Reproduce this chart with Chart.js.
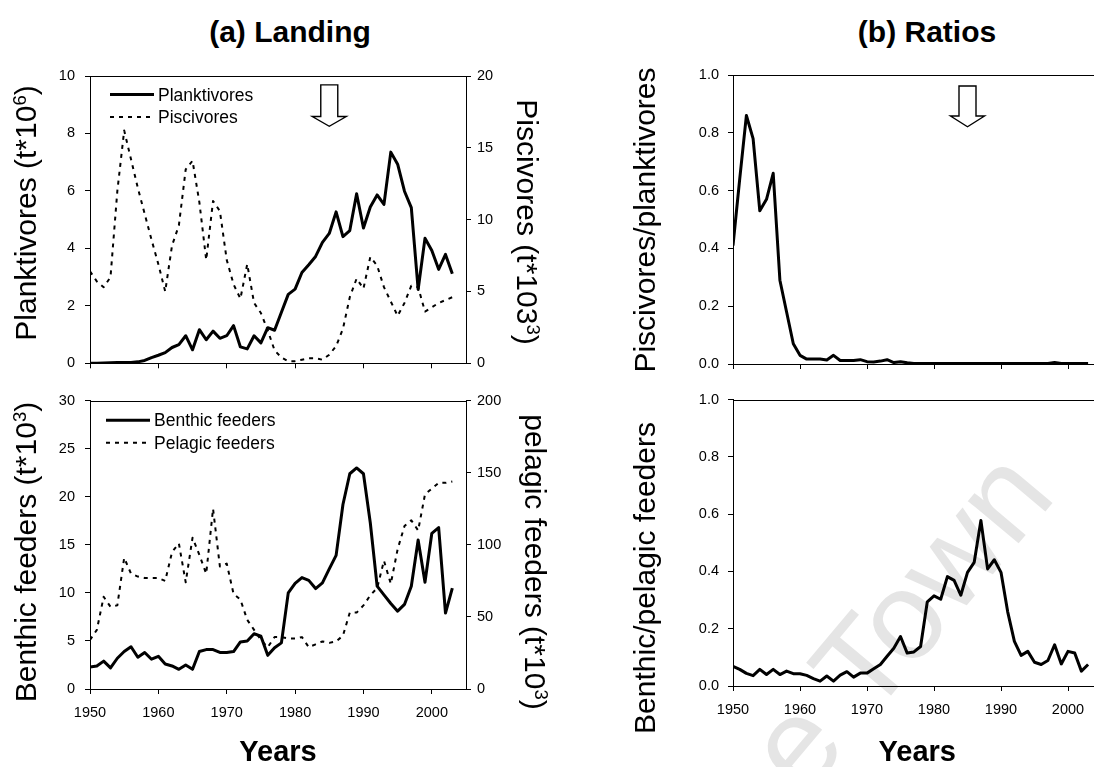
<!DOCTYPE html>
<html>
<head>
<meta charset="utf-8">
<title>Landing and ratios</title>
<script src="https://cdn.jsdelivr.net/npm/chart.js@4.4.1/dist/chart.umd.min.js"></script>
<style>
  html, body { margin: 0; padding: 0; width: 1094px; height: 767px; overflow: hidden; background: #fff; }
  body { position: relative; font-family: "Liberation Sans", Arial, Helvetica, sans-serif; color: #000; }
  canvas { position: absolute; }
  .head { position: absolute; font-weight: bold; font-size: 30px; line-height: 30px; white-space: nowrap; transform: translateX(-50%); }
  .ytitle { position: absolute; font-size: 30px; line-height: 30px; white-space: nowrap; }
  .ytitle sup { font-size: 62%; vertical-align: 0.55em; line-height: 0; }
  .ytitle.l { transform: translate(-50%, -50%) rotate(-90deg); }
  .ytitle.r { transform: translate(-50%, -50%) rotate(90deg); }
  .wm { position: absolute; font-size: 125px; line-height: 125px; color: #e5e5e5; white-space: nowrap; transform-origin: 0 0; transform: rotate(-50deg); }
</style>
</head>
<body>
<div class="wm" style="left:576px; top:906px;">Cape Town</div>

<div class="head" style="left:290px; top:17px;">(a) Landing</div>
<div class="head" style="left:927px; top:17px;">(b) Ratios</div>

<canvas id="landTop" width="560" height="382" style="left:0; top:0;"></canvas>
<canvas id="landBottom" width="560" height="385" style="left:0; top:382px;"></canvas>
<canvas id="ratioTop" width="600" height="382" style="left:600px; top:0;"></canvas>
<canvas id="ratioBottom" width="600" height="385" style="left:600px; top:382px;"></canvas>

<div class="ytitle l" style="left:26px; top:213px;">Planktivores (t*10<sup>6</sup>)</div>
<div class="ytitle r" style="left:527px; top:222px;">Piscivores (t*103<sup>3</sup>)</div>
<div class="ytitle l" style="left:26px; top:552px;">Benthic feeders (t*10<sup>3</sup>)</div>
<div class="ytitle r" style="left:535px; top:562px;">pelagic feeders (t*10<sup>3</sup>)</div>
<div class="ytitle l" style="left:645px; top:220px;">Piscivores/planktivores</div>
<div class="ytitle l" style="left:645px; top:578px;">Benthic/pelagic feeders</div>

<script>
// ---- data -------------------------------------------------------------
const years = [
  1950, 1951, 1952, 1953, 1954, 1955, 1956, 1957, 1958, 1959,
  1960, 1961, 1962, 1963, 1964, 1965, 1966, 1967, 1968, 1969,
  1970, 1971, 1972, 1973, 1974, 1975, 1976, 1977, 1978, 1979,
  1980, 1981, 1982, 1983, 1984, 1985, 1986, 1987, 1988, 1989,
  1990, 1991, 1992, 1993, 1994, 1995, 1996, 1997, 1998, 1999,
  2000, 2001, 2002, 2003
];

// landings of planktivores, t*10^6 (left axis)
const planktivores = [
  0.00, 0.00, 0.01, 0.02, 0.03, 0.03, 0.03, 0.05, 0.10, 0.20,
  0.28, 0.37, 0.55, 0.65, 0.96, 0.47, 1.17, 0.82, 1.12, 0.87,
  0.96, 1.31, 0.57, 0.50, 0.96, 0.71, 1.24, 1.15, 1.78, 2.40,
  2.58, 3.16, 3.43, 3.72, 4.21, 4.52, 5.27, 4.41, 4.62, 5.90,
  4.71, 5.44, 5.86, 5.53, 7.35, 6.93, 5.99, 5.42, 2.57, 4.35,
  3.93, 3.27, 3.79, 3.12
];

// landings of piscivores (right axis)
const piscivores = [
  6.4, 5.7, 5.3, 6.0, 12.0, 16.2, 14.2, 12.2, 10.4, 8.6,
  6.9, 5.0, 8.2, 9.6, 13.5, 14.1, 11.2, 7.2, 11.3, 10.6,
  7.2, 5.5, 4.5, 6.9, 4.2, 3.5, 2.3, 0.9, 0.4, 0.15,
  0.15, 0.25, 0.35, 0.35, 0.25, 0.6, 1.2, 2.4, 4.6, 5.9,
  5.2, 7.4, 6.8, 5.3, 4.3, 3.3, 4.2, 5.4, 5.3, 3.6,
  3.9, 4.2, 4.4, 4.6
];

// landings of benthic feeders, t*10^3 (left axis)
const benthicFeeders = [
  2.3, 2.4, 2.9, 2.2, 3.2, 3.9, 4.4, 3.3, 3.8, 3.1,
  3.4, 2.6, 2.4, 2.05, 2.5, 2.05, 3.9, 4.1, 4.1, 3.8,
  3.8, 3.9, 4.9, 5.0, 5.75, 5.5, 3.5, 4.3, 4.8, 10.0,
  11.0, 11.6, 11.3, 10.45, 11.05, 12.5, 13.9, 19.2, 22.4, 23.0,
  22.4, 17.3, 10.7, 9.8, 8.9, 8.1, 8.8, 10.7, 15.5, 11.1,
  16.2, 16.8, 7.9, 10.5
];

// landings of pelagic feeders, t*10^3 (right axis)
const pelagicFeeders = [
  34, 41, 64, 57, 58, 91, 80, 78, 77, 77,
  77, 75, 95, 101, 74, 105, 93, 80, 125, 85,
  87, 66, 62, 48, 41, 34, 29, 36, 36, 35,
  35, 36, 29, 31, 33, 32, 33, 37, 53, 53,
  58, 65, 70, 89, 73, 97, 113, 117, 110, 135,
  139, 143, 143, 144
];

// piscivores / planktivores
const ratioPiscPlank = [
  0.41, 0.64, 0.86, 0.78, 0.53, 0.57, 0.66, 0.29, 0.18, 0.07,
  0.03, 0.017, 0.017, 0.017, 0.014, 0.03, 0.012, 0.012, 0.012, 0.015,
  0.008, 0.007, 0.010, 0.015, 0.005, 0.008, 0.004, 0.002, 0.002, 0.002,
  0.002, 0.002, 0.002, 0.002, 0.002, 0.002, 0.002, 0.002, 0.002, 0.002,
  0.002, 0.002, 0.002, 0.002, 0.002, 0.002, 0.002, 0.002, 0.005, 0.002,
  0.002, 0.002, 0.002, 0.002
];

// benthic / pelagic feeders
const ratioBenthPel = [
  0.069, 0.058, 0.044, 0.036, 0.058, 0.040, 0.058, 0.040, 0.052, 0.043,
  0.043, 0.037, 0.026, 0.017, 0.035, 0.017, 0.038, 0.050, 0.031, 0.045,
  0.045, 0.060, 0.075, 0.104, 0.132, 0.173, 0.115, 0.119, 0.138, 0.294,
  0.315, 0.303, 0.382, 0.369, 0.317, 0.397, 0.432, 0.578, 0.409, 0.441,
  0.397, 0.259, 0.156, 0.107, 0.121, 0.083, 0.075, 0.089, 0.144, 0.077,
  0.121, 0.115, 0.052, 0.075
];

const yearTicks = [1950, 1960, 1970, 1980, 1990, 2000];
const regimeShiftYear = 1985;

// ---- shared styling -----------------------------------------------------
const FONT = '"Liberation Sans", Arial, Helvetica, sans-serif';
Chart.defaults.font.family = FONT;
Chart.defaults.color = '#000';

const solidLine = { borderColor: '#000', borderWidth: 3, pointRadius: 0, tension: 0, fill: false, borderJoinStyle: 'round', borderCapStyle: 'butt' };
const dashedLine = { borderColor: '#000', borderWidth: 2, borderDash: [4, 5], pointRadius: 0, tension: 0, fill: false, borderJoinStyle: 'round' };

function xAxis(height, showLabels) {
  return {
    type: 'linear', position: 'bottom', min: 1950, max: 2005,
    afterBuildTicks: s => { s.ticks = yearTicks.map(v => ({ value: v })); },
    afterFit: s => { s.height = height; },
    grid: { drawOnChartArea: false, drawTicks: true, tickLength: 5, color: '#000', lineWidth: 1 },
    border: { display: true, color: '#000', width: 1 },
    ticks: { display: showLabels, padding: 10, font: { size: 14.5 }, color: '#000', maxRotation: 0, autoSkip: false, callback: v => String(v) },
    title: showLabels ? { display: true, text: 'Years', font: { size: 29, weight: 'bold', lineHeight: 1 }, color: '#000', padding: { top: 0, bottom: 0 } } : { display: false }
  };
}

function yAxis(position, min, max, step, width, pad, fmt) {
  return {
    type: 'linear', position, min, max,
    afterFit: s => { s.width = width; },
    grid: { drawOnChartArea: false, drawTicks: true, tickLength: 5, color: '#000', lineWidth: 1 },
    border: { display: true, color: '#000', width: 1 },
    ticks: { stepSize: step, padding: pad, font: { size: 14.5 }, color: '#000', callback: fmt || (v => String(v)) }
  };
}

// top border of each plot box
const plotFrame = {
  id: 'plotFrame',
  afterDraw(chart) {
    const { ctx, chartArea } = chart;
    ctx.save();
    ctx.strokeStyle = '#000';
    ctx.lineWidth = 1;
    ctx.beginPath();
    ctx.moveTo(chartArea.left, Math.round(chartArea.top) + 0.5);
    ctx.lineTo(chartArea.right + 0.5, Math.round(chartArea.top) + 0.5);
    ctx.stroke();
    ctx.restore();
  }
};

// legend drawn inside the plot area, top left
const innerLegend = {
  id: 'innerLegend',
  afterDatasetsDraw(chart, args, opts) {
    if (!opts || !opts.show) return;
    const { ctx, chartArea } = chart;
    ctx.save();
    ctx.font = opts.fontSize + 'px ' + FONT;
    ctx.textBaseline = 'alphabetic';
    chart.data.datasets.forEach((ds, i) => {
      const x0 = chartArea.left + opts.x;
      const y = chartArea.top + opts.y + i * opts.rowGap;
      ctx.beginPath();
      ctx.strokeStyle = ds.borderColor;
      ctx.lineWidth = ds.borderWidth;
      ctx.setLineDash(ds.borderDash || []);
      ctx.moveTo(x0, y);
      ctx.lineTo(x0 + opts.sample, y);
      ctx.stroke();
      ctx.setLineDash([]);
      ctx.fillStyle = '#000';
      ctx.fillText(ds.label, x0 + opts.sample + opts.gap, y + opts.textDy);
    });
    ctx.restore();
  }
};

// hollow arrow marking the shift year
const shiftArrow = {
  id: 'shiftArrow',
  afterDatasetsDraw(chart, args, o) {
    if (!o || !o.show) return;
    const xs = chart.scales.x, ys = chart.scales[o.axis];
    const cx = xs.getPixelForValue(o.year);
    const yTop = ys.getPixelForValue(o.top);
    const yHead = ys.getPixelForValue(o.head);
    const yTip = ys.getPixelForValue(o.tip);
    const sw = o.shaftWidth / 2, hw = o.headWidth / 2;
    const { ctx } = chart;
    ctx.save();
    ctx.beginPath();
    ctx.moveTo(cx - sw, yTop);
    ctx.lineTo(cx + sw, yTop);
    ctx.lineTo(cx + sw, yHead);
    ctx.lineTo(cx + hw, yHead);
    ctx.lineTo(cx, yTip);
    ctx.lineTo(cx - hw, yHead);
    ctx.lineTo(cx - sw, yHead);
    ctx.closePath();
    ctx.fillStyle = '#fff';
    ctx.fill();
    ctx.strokeStyle = '#000';
    ctx.lineWidth = 1.4;
    ctx.lineJoin = 'miter';
    ctx.stroke();
    ctx.restore();
  }
};

const basePlugins = [plotFrame, innerLegend, shiftArrow];
const baseOpts = { responsive: false, animation: false, devicePixelRatio: 1, events: [] };
const fixed1 = v => Number(v).toFixed(1);

// (a) top: planktivores and piscivores
new Chart(document.getElementById('landTop'), {
  type: 'line',
  data: {
    labels: years,
    datasets: [
      Object.assign({ label: 'Planktivores', data: planktivores, yAxisID: 'y' }, solidLine),
      Object.assign({ label: 'Piscivores', data: piscivores, yAxisID: 'y2' }, dashedLine)
    ]
  },
  options: Object.assign({}, baseOpts, {
    layout: { padding: { top: 76, left: 0, right: 0, bottom: 0 } },
    scales: {
      x: xAxis(15, false),
      y: yAxis('left', 0, 10, 2, 90, 10),
      y2: yAxis('right', 0, 20, 5, 94, 6)
    },
    plugins: {
      legend: { display: false }, tooltip: { enabled: false },
      innerLegend: { show: true, x: 20, y: 18.5, rowGap: 22.5, sample: 44, gap: 4, textDy: 6, fontSize: 17.5 },
      shiftArrow: { show: true, axis: 'y', year: regimeShiftYear, top: 9.69, head: 8.59, tip: 8.25, shaftWidth: 17, headWidth: 34 }
    }
  }),
  plugins: basePlugins
});

// (a) bottom: benthic and pelagic feeders
new Chart(document.getElementById('landBottom'), {
  type: 'line',
  data: {
    labels: years,
    datasets: [
      Object.assign({ label: 'Benthic feeders', data: benthicFeeders, yAxisID: 'y' }, solidLine),
      Object.assign({ label: 'Pelagic feeders', data: pelagicFeeders, yAxisID: 'y2' }, dashedLine)
    ]
  },
  options: Object.assign({}, baseOpts, {
    layout: { padding: { top: 15, left: 0, right: 0, bottom: 0 } },
    scales: {
      x: xAxis(78, true),
      y: yAxis('left', 0, 30, 5, 90, 10),
      y2: yAxis('right', 0, 200, 50, 94, 6)
    },
    plugins: {
      legend: { display: false }, tooltip: { enabled: false },
      innerLegend: { show: true, x: 16, y: 19.5, rowGap: 22.5, sample: 44, gap: 4, textDy: 6, fontSize: 17.5 }
    }
  }),
  plugins: basePlugins
});

// (b) top: piscivores / planktivores
new Chart(document.getElementById('ratioTop'), {
  type: 'line',
  data: {
    labels: years,
    datasets: [ Object.assign({ label: 'Piscivores/planktivores', data: ratioPiscPlank, yAxisID: 'y' }, solidLine) ]
  },
  options: Object.assign({}, baseOpts, {
    layout: { padding: { top: 75, left: 0, right: 98.5, bottom: 0 } },
    scales: {
      x: xAxis(18, false),
      y: yAxis('left', 0, 1, 0.2, 133, 9, fixed1)
    },
    plugins: {
      legend: { display: false }, tooltip: { enabled: false },
      shiftArrow: { show: true, axis: 'y', year: regimeShiftYear, top: 0.962, head: 0.858, tip: 0.821, shaftWidth: 17, headWidth: 34 }
    }
  }),
  plugins: basePlugins
});

// (b) bottom: benthic / pelagic feeders
new Chart(document.getElementById('ratioBottom'), {
  type: 'line',
  data: {
    labels: years,
    datasets: [ Object.assign({ label: 'Benthic/pelagic feeders', data: ratioBenthPel, yAxisID: 'y' }, solidLine) ]
  },
  options: Object.assign({}, baseOpts, {
    layout: { padding: { top: 14, left: 0, right: 98.5, bottom: 0 } },
    scales: {
      x: xAxis(81, true),
      y: yAxis('left', 0, 1, 0.2, 133, 9, fixed1)
    },
    plugins: { legend: { display: false }, tooltip: { enabled: false } }
  }),
  plugins: basePlugins
});
</script>
</body>
</html>
